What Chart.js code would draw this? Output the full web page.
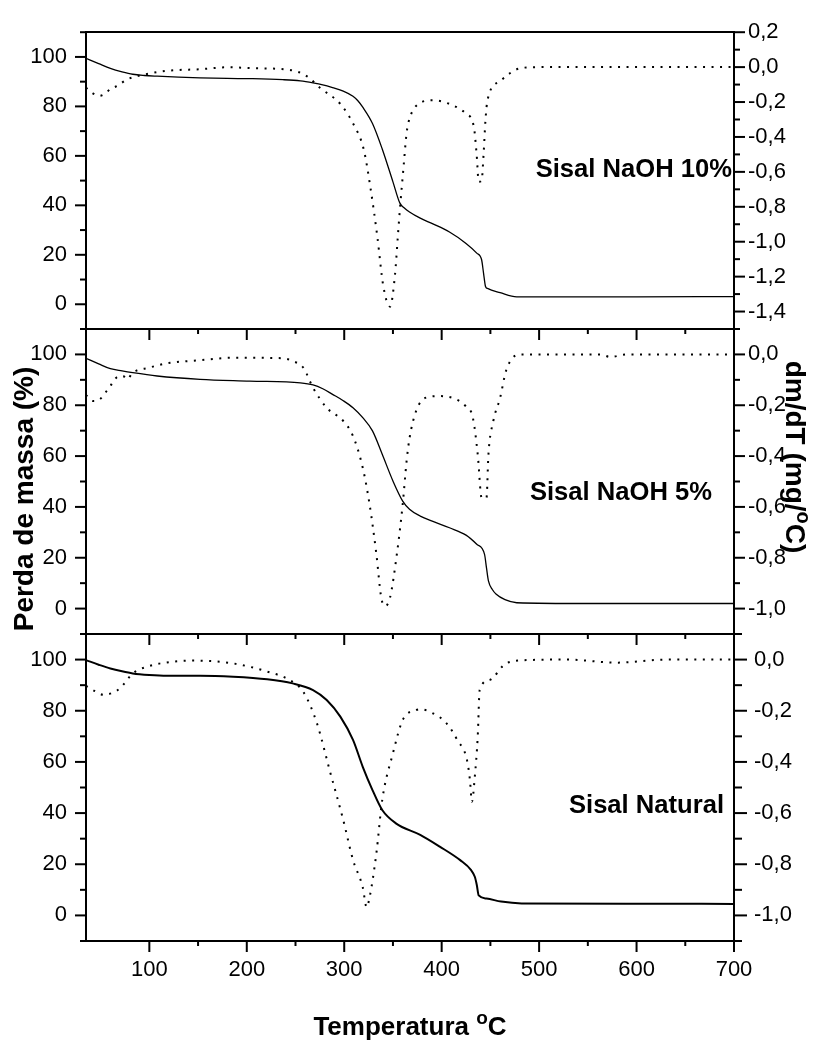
<!DOCTYPE html>
<html><head><meta charset="utf-8">
<script src="https://cdn.jsdelivr.net/npm/chart.js@4.4.1/dist/chart.umd.min.js"></script>
<style>
html,body{margin:0;padding:0;background:#fff;}
#wrap{position:relative;width:815px;height:1045px;background:#fff;}
canvas{position:absolute;left:0;top:0;}
</style>
</head><body>
<div id="wrap">
<canvas id="c1" width="815" height="1045"></canvas>
<canvas id="c2" width="815" height="1045"></canvas>
<canvas id="c3" width="815" height="1045"></canvas>
</div>
<script>
// ---------- DATA ----------
const panelNames = ['Sisal NaOH 10%', 'Sisal NaOH 5%', 'Sisal Natural'];

// Sisal NaOH 10% : mass loss (%) and dm/dT
const tgTemp10 = [35,48,60,72,83,95,108,130,152,180,206,237,255,268,278,288,299,309,314,319,329,339,350,357,362,367,378,391,408,425,436,441,443,445,447,460,477,520,600,700];
const tgMass10 = [99.4,97.3,95.4,94.0,93.0,92.5,92.2,91.8,91.5,91.3,91.2,90.8,90.3,89.5,88.7,87.6,86.2,84.1,82.3,79.7,73.1,62.8,49.5,41.0,38.8,37.3,34.8,32.5,29.2,24.6,20.7,18.0,12.5,7.2,6.4,4.7,3.0,3.0,3.0,3.1];
const dtgTemp10 = [35,42,49,55,60,67,77,94,118,152,180,206,244,262,275,296,309,320,327,334,340,347,352,355,357,361,364,367,378,391,408,425,433,436,438,441,443,445,447,460,481,500,600,700];
const dtgRate10 = [-0.118,-0.150,-0.164,-0.150,-0.125,-0.108,-0.071,-0.044,-0.021,-0.012,-0.001,-0.006,-0.016,-0.053,-0.118,-0.211,-0.322,-0.471,-0.694,-0.972,-1.251,-1.372,-1.195,-0.972,-0.824,-0.564,-0.378,-0.295,-0.205,-0.190,-0.211,-0.267,-0.341,-0.508,-0.657,-0.650,-0.500,-0.300,-0.190,-0.080,-0.006,0,0,0];

// Sisal NaOH 5%
const tgTemp5 = [35,48,60,72,83,108,152,203,255,268,278,288,299,309,319,329,339,350,360,367,378,391,408,425,436,444,446,448,452,456,465,477,550,700];
const tgMass5 = [98.5,96.3,94.4,93.5,92.8,91.5,90.2,89.5,88.8,88.0,86.5,84.3,81.8,79.0,75.1,69.9,60.7,50.2,42.3,39.1,36.4,34.3,31.8,28.9,25.3,21.3,16.0,10.9,7.5,5.6,3.5,2.3,2.0,2.0];
const dtgTemp5 = [35,42,49,55,60,67,73,77,83,100,118,152,186,237,247,258,268,282,299,309,319,326,333,338,342,347,354,360,364,367,374,384,398,415,425,432,437,441,446,448,453,460,466,473,481,563,573,590,700];
const dtgRate5 = [-0.160,-0.183,-0.177,-0.150,-0.124,-0.089,-0.085,-0.098,-0.072,-0.052,-0.035,-0.023,-0.013,-0.015,-0.026,-0.052,-0.131,-0.210,-0.262,-0.321,-0.446,-0.590,-0.786,-0.957,-0.990,-0.957,-0.786,-0.590,-0.420,-0.330,-0.220,-0.170,-0.164,-0.177,-0.205,-0.249,-0.393,-0.564,-0.564,-0.393,-0.262,-0.170,-0.065,-0.013,0,0,-0.010,0,0];

// Sisal Natural
const tgTempNat = [35,48,60,72,83,100,118,152,186,221,247,268,282,296,309,319,329,339,353,378,398,419,430,434,436,438,446,461,482,600,700];
const tgMassNat = [99.8,98.0,96.5,95.4,94.6,94.0,93.7,93.7,93.3,92.3,90.7,88.1,84.2,77.7,68.6,58.1,49.0,41.2,36.0,31.5,26.9,21.6,17.8,15.1,12.0,7.8,6.6,5.4,4.7,4.6,4.5];
const dtgTempNat = [35,45,53,62,70,83,100,118,145,186,221,244,258,272,285,299,309,319,323,326,333,339,350,360,374,378,391,405,416,426,429,431,434,437,439,449,466,487,528,580,631,700];
const dtgRateNat = [-0.103,-0.125,-0.138,-0.130,-0.112,-0.054,-0.025,-0.011,-0.004,-0.015,-0.047,-0.080,-0.126,-0.249,-0.432,-0.627,-0.783,-0.890,-0.968,-0.930,-0.757,-0.549,-0.366,-0.236,-0.197,-0.194,-0.210,-0.249,-0.314,-0.393,-0.470,-0.556,-0.458,-0.301,-0.119,-0.080,-0.015,-0.002,0,-0.012,0,0];

// axis ranges
const xRange = [35, 700];
const massRange = [-10, 110];
const rateRanges = [[-1.5, 0.2], [-1.1, 0.1], [-1.1, 0.1]];

// ---------- RENDER ----------
const FONT = '"Liberation Sans", Arial, sans-serif';
const pts = (T, V) => T.map((t, i) => ({x: t, y: V[i]}));
const commaFmt = v => { const n = Math.round(v * 10); return (n / 10).toFixed(1).replace('.', ','); };

const framePlugin = {
  id: 'frame',
  afterDraw(chart, args, o) {
    const {ctx, chartArea: a} = chart;
    const sx = chart.scales.x, sl = chart.scales.y, sr = chart.scales.y2;
    const L = Math.round(a.left), R = Math.round(a.right), T = Math.round(a.top), B = Math.round(a.bottom);
    ctx.save();
    ctx.strokeStyle = '#000'; ctx.fillStyle = '#000'; ctx.lineWidth = 2; ctx.lineCap = 'butt';
    const line = (x1, y1, x2, y2) => { ctx.beginPath(); ctx.moveTo(x1, y1); ctx.lineTo(x2, y2); ctx.stroke(); };
    ctx.beginPath(); ctx.rect(L, T, R - L, B - T); ctx.stroke();
    sl.ticks.forEach(t => { const p = sl.getPixelForValue(t.value); const maj = Math.round(t.value) % 20 === 0; line(L, p, L - (maj ? 11 : 6), p); });
    sr.ticks.forEach(t => { const p = sr.getPixelForValue(t.value); const maj = Math.round(t.value * 10) % 2 === 0; line(R, p, R + (maj ? o.rMaj : o.rMin), p); });
    let xt = sx.ticks.map(t => t.value).filter(v => Math.round(v) % 50 === 0);
    if (!xt.length) { xt = []; for (let v = 50; v <= 700; v += 50) xt.push(v); }
    xt.forEach(v => {
      const p = sx.getPixelForValue(v); const maj = Math.round(v) % 100 === 0;
      if (o.topTicks) line(p, T, p, T + (maj ? 11 : 5));
      if (o.bottomTicks) line(p, B, p, B + (maj ? 11 : 5));
    });
    // panel label
    ctx.font = 'bold 25.6px ' + FONT; ctx.textAlign = 'right'; ctx.textBaseline = 'alphabetic';
    ctx.fillText(o.label.text, o.label.right, o.label.base);
    if (o.titles) {
      ctx.save(); ctx.font = 'bold 28px ' + FONT; ctx.textAlign = 'center';
      ctx.translate(33, 499); ctx.rotate(-Math.PI / 2); ctx.fillText('Perda de massa (%)', 0, 0); ctx.restore();
      const drawSup = (parts, cx, cy, rot, big, small, raise) => {
        ctx.save(); ctx.translate(cx, cy); ctx.rotate(rot); ctx.textAlign = 'left';
        let w = 0; const ws = parts.map(p => { ctx.font = 'bold ' + (p.sup ? small : big) + 'px ' + FONT; const m = ctx.measureText(p.t).width; w += m; return m; });
        let x = -w / 2;
        parts.forEach((p, i) => { ctx.font = 'bold ' + (p.sup ? small : big) + 'px ' + FONT; ctx.fillText(p.t, x, p.sup ? -raise : 0); x += ws[i]; });
        ctx.restore();
      };
      drawSup([{t: 'dm/dT (mg/'}, {t: 'o', sup: true}, {t: 'C)'}], 786, 457, Math.PI / 2, 28, 20, 11);
      drawSup([{t: 'Temperatura '}, {t: 'o', sup: true}, {t: 'C'}], 410, 1035, 0, 26, 19, 11);
    }
    ctx.restore();
  }
};

const panelDefs = [
  {id: 'c1', tgT: tgTemp10, tgV: tgMass10, dT: dtgTemp10, dV: dtgRate10, top: 23, bottom: 329, tgW: 1.3,
   rPad: 14, rMaj: 11, rMin: 6, topTicks: false, bottomTicks: false, label: {text: panelNames[0], right: 732, base: 177}},
  {id: 'c2', tgT: tgTemp5, tgV: tgMass5, dT: dtgTemp5, dV: dtgRate5, top: 329, bottom: 634, tgW: 1.3,
   rPad: 14, rMaj: 11, rMin: 6, topTicks: true, bottomTicks: false, label: {text: panelNames[1], right: 712, base: 500}},
  {id: 'c3', tgT: tgTempNat, tgV: tgMassNat, dT: dtgTempNat, dV: dtgRateNat, top: 634, bottom: 941, tgW: 2,
   rPad: 20, rMaj: 13, rMin: 8, topTicks: true, bottomTicks: true, label: {text: panelNames[2], right: 724, base: 813}, titles: true, showX: true}
];

panelDefs.forEach((d, i) => {
  const last = !!d.showX;
  const xScale = {type: 'linear', min: xRange[0], max: xRange[1], display: last,
            grid: {display: false, drawTicks: false}, border: {display: false},
            ticks: {stepSize: 50, autoSkip: false, maxRotation: 0, padding: 16, color: '#000', font: {family: FONT, size: 22},
                    callback: v => (Math.round(v) % 100 === 0 ? String(v) : '')}};
  if (last) xScale.afterFit = s => { s.height = 1045 - d.bottom; };
  new Chart(document.getElementById(d.id), {
    type: 'line',
    data: {datasets: [
      {data: pts(d.tgT, d.tgV), yAxisID: 'y', borderColor: '#000', borderWidth: d.tgW, pointRadius: 0, fill: false, cubicInterpolationMode: 'monotone'},
      {data: pts(d.dT, d.dV), yAxisID: 'y2', borderColor: '#000', borderWidth: 2, borderDash: [2, 6.5], pointRadius: 0, fill: false, cubicInterpolationMode: 'monotone'}
    ]},
    options: {
      responsive: false, animation: false, devicePixelRatio: 1,
      layout: {padding: {left: 0, right: 0, top: d.top, bottom: last ? 0 : 1045 - d.bottom}},
      plugins: {legend: {display: false}, tooltip: {enabled: false}, frame: {rMaj: d.rMaj, rMin: d.rMin, topTicks: d.topTicks, bottomTicks: d.bottomTicks, label: d.label, titles: !!d.titles}},
      scales: {
        x: xScale,
        y: {type: 'linear', position: 'left', min: massRange[0], max: massRange[1],
            grid: {display: false, drawTicks: false}, border: {display: false},
            ticks: {stepSize: 10, autoSkip: false, padding: 19, color: '#000', font: {family: FONT, size: 22},
                    callback: v => (v >= 0 && v <= 100 && Math.round(v) % 20 === 0 ? String(v) : '')},
            afterFit: s => { s.width = 86; }},
        y2: {type: 'linear', position: 'right', min: rateRanges[i][0], max: rateRanges[i][1],
            grid: {display: false, drawTicks: false}, border: {display: false},
            ticks: {stepSize: 0.1, autoSkip: false, padding: d.rPad, color: '#000', font: {family: FONT, size: 22},
                    callback: v => (Math.round(v * 10) % 2 === 0 ? commaFmt(v) : '')},
            afterFit: s => { s.width = 81; }}
      }
    },
    plugins: [framePlugin]
  });
});
</script>
</body></html>
